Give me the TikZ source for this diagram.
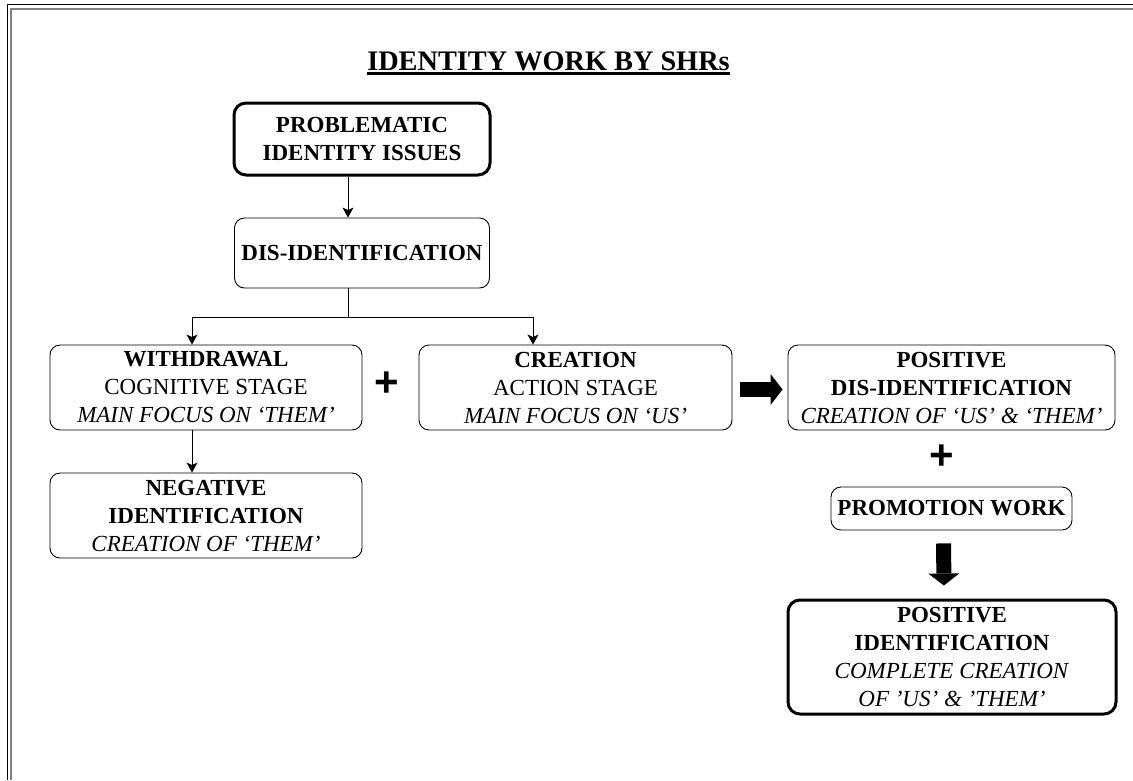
\documentclass[tikz,border=0pt]{standalone}
\usepackage{fontspec}
\setmainfont{Liberation Serif}
\newfontfamily\plusfont{Liberation Sans}
\usetikzlibrary{arrows.meta}
\newcommand\boxfont{\fontsize{23}{28}\selectfont}
\begin{document}
\begin{tikzpicture}[x=1pt,y=-1pt,
  box/.style={draw, rounded corners=10pt, line width=0.9pt, align=center, inner sep=0pt, font=\boxfont},
  thickbox/.style={box, line width=3pt, rounded corners=12pt},
  arr/.style={line width=0.9pt, -{Stealth[length=10pt,width=11pt,inset=2.5pt]}},
  fat/.style={line width=15pt, -{Triangle[length=12pt,width=31pt,line width=0pt]}},
  plus/.style={font=\plusfont\bfseries\fontsize{42}{42}\selectfont, inner sep=0pt},
]
\useasboundingbox (0,0) rectangle (1133,780);
% page frame (only top and left edges visible)
\draw[line width=1pt] (7,780) -- (7,4.5) -- (1133,4.5);
\draw[gray, line width=2pt] (11,780) -- (11,8.5) -- (1133,8.5);

% title
\node[font=\bfseries\fontsize{28.3}{34}\selectfont, inner sep=0pt, anchor=base] (title) at (548.5,70) {IDENTITY WORK BY SHRs};
\draw[line width=2.5pt] ([yshift=-3.5pt]title.base west) -- ([yshift=-3.5pt]title.base east);

% boxes
\node[thickbox, minimum width=256pt, minimum height=72pt] (prob) at (362,139) {\textbf{PROBLEMATIC}\\\textbf{IDENTITY ISSUES}};
\node[box, minimum width=255pt, minimum height=70pt] (dis) at (362,253) {\textbf{DIS-IDENTIFICATION}};
\node[box, minimum width=312pt, minimum height=85pt] (withd) at (206,387.5) {\textbf{WITHDRAWAL}\\COGNITIVE STAGE\\\textit{MAIN FOCUS ON ‘THEM’}};
\node[box, minimum width=313pt, minimum height=85pt] (crea) at (575.5,387.5) {\textbf{CREATION}\\ACTION STAGE\\\textit{MAIN FOCUS ON ‘US’}};
\node[box, minimum width=327pt, minimum height=85pt] (posdis) at (951.5,387.5) {\textbf{POSITIVE}\\\textbf{DIS-IDENTIFICATION}\\\textit{CREATION OF ‘US’ \& ‘THEM’}};
\node[box, minimum width=312pt, minimum height=85pt] (neg) at (206,515.5) {\textbf{NEGATIVE}\\\textbf{IDENTIFICATION}\\\textit{CREATION OF ‘THEM’}};
\node[box, minimum width=241pt, minimum height=43pt] (promo) at (951.5,508.5) {\textbf{PROMOTION WORK}};
\node[thickbox, minimum width=328pt, minimum height=114pt] (posid) at (952,657) {\textbf{POSITIVE}\\\textbf{IDENTIFICATION}\\\textit{COMPLETE CREATION}\\\textit{OF ’US’ \& ’THEM’}};

% plus signs
\node[plus] (plus1) at (387,384) {+};
\node[plus] (plus2) at (942,457) {+};

% connectors
\coordinate (split) at ([xshift=-14pt,yshift=-29pt]dis.south);
\draw[arr] ([xshift=-14pt]prob.south) -- ([xshift=-14pt]dis.north);
\draw[line width=0.9pt] ([xshift=-14pt]dis.south) -- (split);
\draw[arr] (split) -| ([xshift=-14pt]withd.north);
\draw[arr] (split) -| ([xshift=-42.5pt]crea.north);
\draw[arr] ([xshift=-14pt]withd.south) -- ([xshift=-14pt]neg.north);
\draw[fat, shorten <=8pt, shorten >=5pt] ([yshift=-2pt]crea.east) -- ([yshift=-2pt]posdis.west);
\draw[fat, shorten <=13pt, shorten >=13pt] ([xshift=-8pt]promo.south) -- ([xshift=-8pt]posid.north);
\end{tikzpicture}
\end{document}
